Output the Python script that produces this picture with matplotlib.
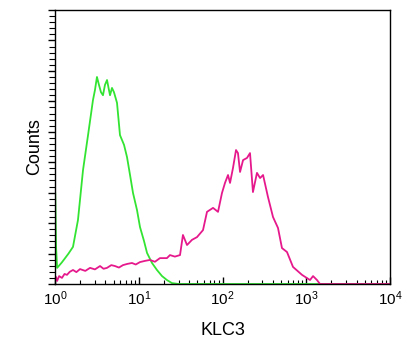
import numpy as np
import matplotlib
matplotlib.use("Agg")
import matplotlib.pyplot as plt
from matplotlib.ticker import LogLocator, MultipleLocator, NullFormatter

plt.rcParams['font.family'] = ['Liberation Sans', 'DejaVu Sans']
plt.rcParams['mathtext.fontset'] = 'custom'
plt.rcParams['mathtext.rm'] = 'Liberation Sans'

# isotype control (green)
ctrl_x = [1.00, 1.005, 1.03, 1.06, 1.20, 1.32, 1.45, 1.64, 1.88, 2.16, 2.48, 2.84, 3.00, 3.17,
          3.35, 3.54, 3.74, 3.95, 4.18, 4.41, 4.54, 4.79, 5.06, 5.5, 5.97, 6.67, 7.24, 7.87,
          8.54, 9.53, 10.35, 11.56, 12.56, 14.4, 16.5, 18.96, 21.7, 24.9, 30, 100, 1000, 10000]
ctrl_y = [0, 30, 12, 5.3, 7.0, 8.5, 10.0, 12.2, 21, 37.4, 48.9, 60.4, 63.7, 68,
          65.4, 63, 62, 65.4, 67, 63.7, 62, 64.4, 63, 59.5, 48.9, 45.7, 41.7, 35.8,
          29.9, 24.3, 18.7, 14.1, 10.2, 6.9, 4.6, 2.6, 1.3, 0.3, 0, 0, 0, 0]

# KLC3 stained (pink)
klc3_x = [1.00, 1.03, 1.06, 1.12, 1.21, 1.30, 1.39, 1.50, 1.64, 1.80, 1.99, 2.3, 2.62, 3.0,
          3.45, 3.8, 4.18, 4.7, 5.2, 5.8, 6.48, 7.3, 8.3, 9.2, 10.35, 11.9, 13.6, 15.6, 17.9,
          21.7, 23.6, 27, 31.1, 33.7, 37.7, 43.2, 49.6, 58.5, 65.3, 77.1, 88.4, 98.6,
          107.1, 116.4, 123, 133.4, 145, 153, 162, 176, 196, 213, 231, 258, 281, 305,
          349, 401, 460, 513, 589, 695, 890, 1109, 1205, 1344, 1459, 10000]
klc3_y = [0.7, 2.3, 1.0, 2.6, 2.0, 3.3, 3.0, 4.0, 4.6, 3.9, 4.9, 4.3, 5.3, 4.8,
          5.9, 5.0, 5.3, 6.2, 5.9, 5.4, 6.2, 6.6, 6.9, 6.4, 7.2, 7.6, 7.9, 7.3, 8.5,
          8.5, 9.5, 9.0, 9.5, 16.1, 12.8, 14.5, 15.4, 17.7, 23.7, 25.0, 23.7, 29.9,
          33.2, 35.8, 33.2, 38.1, 44.0, 43.0, 36.8, 40.7, 41.4, 43.0, 30.2, 36.5, 34.8, 35.8,
          28.6, 22.0, 18.4, 11.8, 10.5, 5.6, 3.0, 1.3, 2.6, 1.3, 0, 0]

fig = plt.figure(figsize=(4.13, 3.42), dpi=100)
ax = fig.add_axes([55 / 413, 58 / 342, 335 / 413, 274 / 342])

ax.plot(ctrl_x, ctrl_y, color='#33e433', lw=1.3)
ax.plot(klc3_x, klc3_y, color='#e6198c', lw=1.3)

ax.set_xscale('log')
ax.set_xlim(1, 10000)
ax.set_ylim(0, 90)

ax.xaxis.set_minor_locator(LogLocator(base=10, subs=np.arange(2, 10), numticks=10))
ax.xaxis.set_minor_formatter(NullFormatter())
ax.set_xticks([1, 10, 100, 1000, 10000])
ax.set_xticklabels([r'$\mathregular{10^{%d}}$' % i for i in range(5)], fontsize=11)
ax.tick_params(axis='x', which='major', direction='in', length=5, width=1, pad=4)
ax.tick_params(axis='x', which='minor', direction='in', length=3, width=0.8)

ax.yaxis.set_major_locator(MultipleLocator(10))
ax.yaxis.set_minor_locator(MultipleLocator(2))
ax.set_yticklabels([])
ax.tick_params(axis='y', which='major', direction='out', length=5, width=1)
ax.tick_params(axis='y', which='minor', direction='out', length=4, width=0.8)

for s in ax.spines.values():
    s.set_linewidth(1)

ax.set_xlabel('KLC3', fontsize=13, labelpad=10)
ax.set_ylabel('Counts', fontsize=13, labelpad=0)

fig.savefig('out.png', dpi=100)
